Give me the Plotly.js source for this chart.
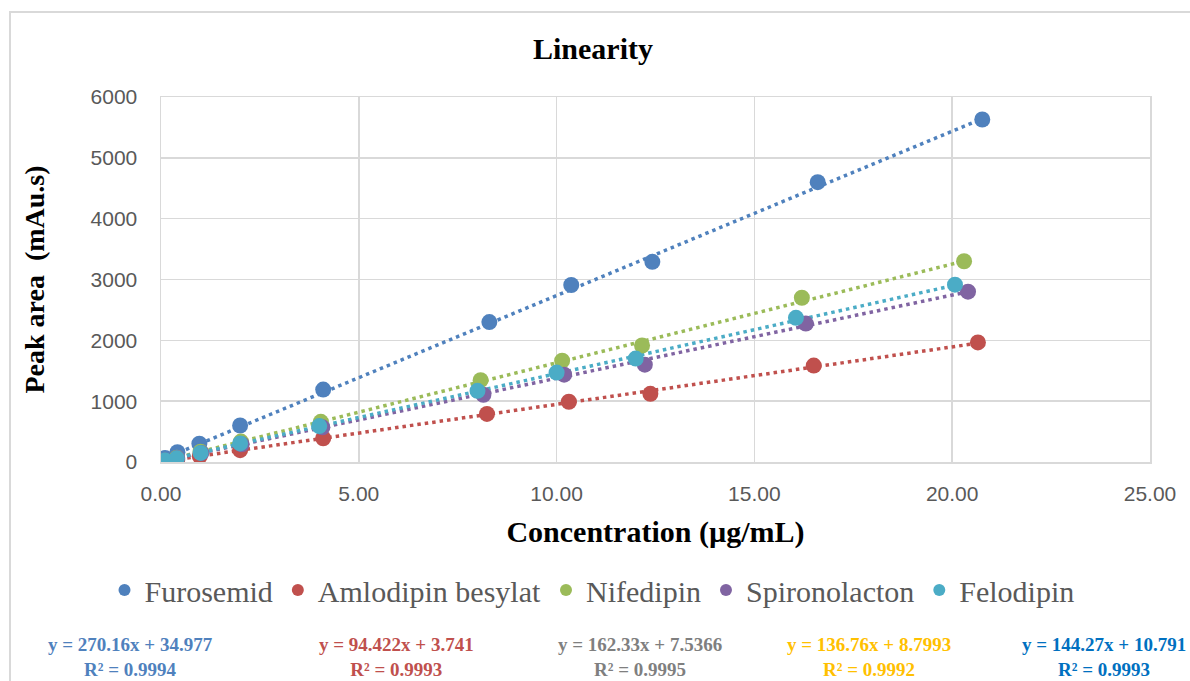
<!DOCTYPE html>
<html>
<head>
<meta charset="utf-8">
<script src="https://cdn.plot.ly/plotly-3.0.1.min.js"></script>
<style>html,body{margin:0;padding:0;background:#fff;}#chart{width:1190px;height:681px;}</style>
</head>
<body>
<div id="chart"></div>
<script>
// ---- data ----
const seriesNames = ["Furosemid", "Amlodipin besylat", "Nifedipin", "Spironolacton", "Felodipin"];
const furosemidX = [0.104, 0.415, 0.97, 2.0, 4.1, 8.3, 10.37, 12.42, 16.6, 20.76];
const furosemidY = [66, 160, 300, 600, 1190, 2300, 2910, 3290, 4600, 5630];
const amlodipinX = [0.1, 0.41, 0.98, 2.0, 4.1, 8.24, 10.31, 12.37, 16.5, 20.65];
const amlodipinY = [14, 40, 95, 195, 390, 790, 990, 1120, 1585, 1965];
const nifedipinX = [0.1, 0.4, 1.0, 2.02, 4.04, 8.08, 10.14, 12.16, 16.2, 20.3];
const nifedipinY = [20, 70, 170, 335, 660, 1345, 1665, 1915, 2700, 3300];
const spironolactonX = [0.1, 0.41, 1.02, 2.04, 4.08, 8.15, 10.19, 12.23, 16.3, 20.4];
const spironolactonY = [22, 65, 150, 290, 570, 1105, 1435, 1600, 2275, 2800];
const felodipinX = [0.1, 0.4, 1.0, 2.0, 4.0, 8.0, 10.0, 12.0, 16.05, 20.07];
const felodipinY = [25, 60, 150, 305, 590, 1170, 1470, 1700, 2370, 2915];
// trendline equations as printed under the chart
const slopes = [270.16, 94.422, 162.33, 136.76, 144.27];
const intercepts = [34.977, 3.741, 7.5366, 8.7993, 10.791];
const eqTexts = ["y = 270.16x + 34.977", "y = 94.422x + 3.741", "y = 162.33x + 7.5366", "y = 136.76x + 8.7993", "y = 144.27x + 10.791"];
const r2Texts = ["R² = 0.9994", "R² = 0.9993", "R² = 0.9995", "R² = 0.9992", "R² = 0.9993"];
const xTickVals = [0, 5, 10, 15, 20, 25];
const yTickVals = [0, 1000, 2000, 3000, 4000, 5000, 6000];

const xs = [furosemidX, amlodipinX, nifedipinX, spironolactonX, felodipinX];
const ys = [furosemidY, amlodipinY, nifedipinY, spironolactonY, felodipinY];
const colors = ["#4F81BD", "#C0504D", "#9BBB59", "#8064A2", "#4BACC6"];
const eqColors = ["#4F81BD", "#C0504D", "#7F7F7F", "#FFC000", "#0070C0"];

const serif = "Liberation Serif, Times New Roman, serif";
const sans = "Liberation Sans, Arial, sans-serif";

const traces = [];
for (let i = 0; i < 5; i++) {
  const x0 = Math.min(...xs[i]), x1 = Math.max(...xs[i]);
  traces.push({
    x: [x0, x1],
    y: [slopes[i] * x0 + intercepts[i], slopes[i] * x1 + intercepts[i]],
    mode: "lines", type: "scatter", showlegend: false, hoverinfo: "skip",
    line: {color: colors[i], width: 3.5, dash: "3.5px,4px"}
  });
}
for (let i = 0; i < 5; i++) {
  traces.push({
    x: xs[i], y: ys[i], name: seriesNames[i],
    mode: "markers", type: "scatter",
    marker: {color: colors[i], size: 16}
  });
}

// plot area in pixels: left 161, right 1150, top 97, bottom 462
const L = 161, R = 1150, T = 97, B = 462;
const px = v => (v - L) / (R - L);
const py = v => (B - v) / (B - T);

const eqCenters = [130, 396, 640, 869, 1104];
const annotations = [];
for (let i = 0; i < 5; i++) {
  annotations.push({
    xref: "paper", yref: "paper", x: px(eqCenters[i]), y: py(657),
    xanchor: "center", yanchor: "middle", showarrow: false, align: "center",
    text: "<b>" + eqTexts[i] + "<br>" + r2Texts[i] + "</b>",
    font: {family: serif, size: 19, color: eqColors[i]}
  });
}

const layout = {
  width: 1190, height: 681,
  margin: {l: L, r: 1190 - R, t: T, b: 681 - B},
  paper_bgcolor: "#ffffff", plot_bgcolor: "#ffffff",
  title: {text: "<b>Linearity</b>", font: {family: serif, size: 30, color: "#000"},
          xref: "container", x: 593 / 1190, y: 1 - 48 / 681, yref: "container", xanchor: "center", yanchor: "middle"},
  xaxis: {
    range: [0, 25], tickvals: xTickVals, tickformat: ".2f",
    showgrid: true, gridcolor: "#d9d9d9", gridwidth: 1.5,
    showline: true, linecolor: "#d9d9d9", linewidth: 1.5, mirror: true,
    zeroline: false, ticks: "", ticklabelstandoff: 12,
    tickfont: {family: sans, size: 21, color: "#595959"},
    title: {text: "<b>Concentration (µg/mL)</b>", font: {family: serif, size: 30, color: "#000"}, standoff: 17}
  },
  yaxis: {
    range: [0, 6000], tickvals: yTickVals,
    showgrid: true, gridcolor: "#d9d9d9", gridwidth: 1.5,
    showline: true, linecolor: "#d9d9d9", linewidth: 1.5, mirror: true,
    zeroline: false, ticks: "", ticklabelstandoff: 18,
    tickfont: {family: sans, size: 21, color: "#595959"},
    title: {text: "<b>Peak area  (mAu.s)</b>", font: {family: serif, size: 28, color: "#000"}, standoff: 38}
  },
  legend: {
    orientation: "h", xref: "container", yref: "container",
    x: 592 / 1190, xanchor: "center", y: 1 - 590 / 681, yanchor: "middle",
    font: {family: serif, size: 30, color: "#595959"},
    itemsizing: "constant", bgcolor: "rgba(0,0,0,0)"
  },
  annotations: annotations,
  shapes: [{
    type: "rect", xref: "paper", yref: "paper",
    x0: px(10), x1: px(1200), y0: py(700), y1: py(12),
    line: {color: "#d9d9d9", width: 2}, fillcolor: "rgba(0,0,0,0)", layer: "below"
  }]
};

Plotly.newPlot("chart", traces, layout, {displayModeBar: false, staticPlot: true});
</script>
</body>
</html>
